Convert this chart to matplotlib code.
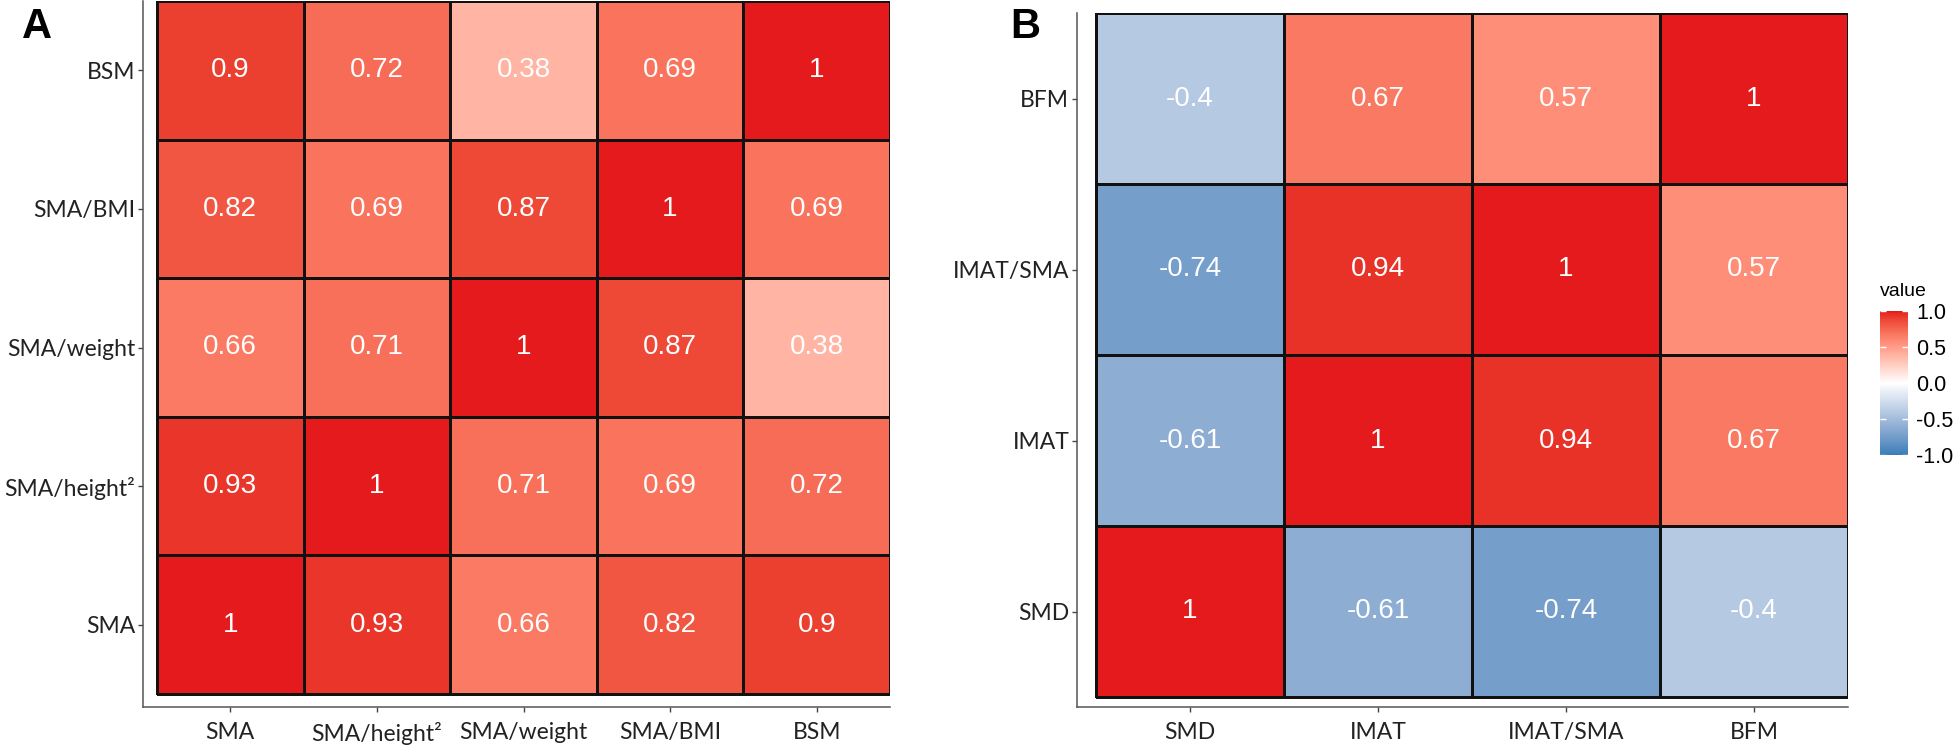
import numpy as np
import matplotlib
matplotlib.use("Agg")
import matplotlib.pyplot as plt
from matplotlib.colors import ListedColormap


# panel A data (rows bottom -> top, same order as columns)
labels_a = ["SMA", "SMA/height²", "SMA/weight", "SMA/BMI", "BSM"]
corr_a = [
    [1, 0.93, 0.66, 0.82, 0.9],
    [0.93, 1, 0.71, 0.69, 0.72],
    [0.66, 0.71, 1, 0.87, 0.38],
    [0.82, 0.69, 0.87, 1, 0.69],
    [0.9, 0.72, 0.38, 0.69, 1],
]

# panel B data
labels_b = ["SMD", "IMAT", "IMAT/SMA", "BFM"]
corr_b = [
    [1, -0.61, -0.74, -0.4],
    [-0.61, 1, 0.94, 0.67],
    [-0.74, 0.94, 1, 0.57],
    [-0.4, 0.67, 0.57, 1],
]

cbar_ticks = [-1.0, -0.5, 0.0, 0.5, 1.0]

LOW = "#377EB8"
HIGH = "#E41A1C"

W, H = 1960, 748
TICK_FONT = "Lato"
CELL_FONT = "Liberation Sans"


# ggplot-like gradient2: interpolate in Lab space
def srgb_to_lab(rgb):
    c = np.asarray(rgb, float)
    lin = np.where(c <= 0.04045, c / 12.92, ((c + 0.055) / 1.055) ** 2.4)
    m = np.array([[0.4124, 0.3576, 0.1805],
                  [0.2126, 0.7152, 0.0722],
                  [0.0193, 0.1192, 0.9505]])
    xyz = m @ lin / np.array([0.95047, 1.0, 1.08883])
    f = np.where(xyz > 0.008856, np.cbrt(xyz), 7.787 * xyz + 16 / 116)
    return np.array([116 * f[1] - 16, 500 * (f[0] - f[1]), 200 * (f[1] - f[2])])


def lab_to_srgb(lab):
    L, a, b = lab
    fy = (L + 16) / 116
    fx = fy + a / 500
    fz = fy - b / 200
    f = np.array([fx, fy, fz])
    xyz = np.where(f ** 3 > 0.008856, f ** 3, (f - 16 / 116) / 7.787)
    xyz = xyz * np.array([0.95047, 1.0, 1.08883])
    m = np.array([[3.2406, -1.5372, -0.4986],
                  [-0.9689, 1.8758, 0.0415],
                  [0.0557, -0.2040, 1.0570]])
    lin = m @ xyz
    lin = np.clip(lin, 0, 1)
    c = np.where(lin <= 0.0031308, 12.92 * lin, 1.055 * lin ** (1 / 2.4) - 0.055)
    return np.clip(c, 0, 1)


def hex_rgb(h):
    return np.array([int(h[i:i + 2], 16) / 255 for i in (1, 3, 5)])


lab_low = srgb_to_lab(hex_rgb(LOW))
lab_mid = srgb_to_lab(np.ones(3))
lab_high = srgb_to_lab(hex_rgb(HIGH))
cols = []
for t in np.linspace(-1, 1, 256):
    if t < 0:
        lab = lab_mid + (-t) * (lab_low - lab_mid)
    else:
        lab = lab_mid + t * (lab_high - lab_mid)
    cols.append(lab_to_srgb(lab))
cmap = ListedColormap(cols)


def px_axes(fig, x0, y0, x1, y1):
    # pixel box (top-left origin) -> figure fraction
    return fig.add_axes([x0 / W, 1 - y1 / H, (x1 - x0) / W, (y1 - y0) / H])


def draw_heatmap(ax, labels, corr, gap_x, gap_y):
    data = np.array(corr, float)
    n = len(labels)
    edges = np.arange(n + 1) - 0.5
    mesh = ax.pcolormesh(edges, edges, data, cmap=cmap, vmin=-1, vmax=1,
                         edgecolors="#111111", linewidth=0.8)
    for i in range(n):
        for j in range(n):
            v = data[i, j]
            txt = "1" if v == 1 else ("%g" % v)
            ax.text(j, i, txt, ha="center", va="center", color="white",
                    fontsize=20, family=CELL_FONT)
    ax.set_xlim(-0.5 - gap_x, n - 0.5)
    ax.set_ylim(-0.5 - gap_y, n - 0.5)
    ax.set_xticks(range(n))
    ax.set_yticks(range(n))
    ax.set_xticklabels(labels, family=TICK_FONT, fontsize=16.5, color="#222222")
    ax.set_yticklabels(labels, family=TICK_FONT, fontsize=16.5, color="#222222")
    for s in ["top", "right"]:
        ax.spines[s].set_visible(False)
    for s in ["left", "bottom"]:
        ax.spines[s].set_color("#555555")
        ax.spines[s].set_linewidth(1.1)
    ax.tick_params(length=3.5, width=1, color="#444444", pad=2)
    ax.tick_params(axis="x", pad=7)
    return mesh


fig = plt.figure(figsize=(W / 100, H / 100), dpi=100)

# panel A: axes box includes the small gap between tiles and axis lines
ax_a = px_axes(fig, 143, 1, 890, 707)
draw_heatmap(ax_a, labels_a, corr_a, 14 / 146.6, 13 / 138.6)

# panel B
ax_b = px_axes(fig, 1077, 13, 1848, 707)
mesh = draw_heatmap(ax_b, labels_b, corr_b, 19 / 188.0, 10 / 171.0)

# colour bar
cax = px_axes(fig, 1880, 311, 1908, 455)
cb = fig.colorbar(mesh, cax=cax, ticks=cbar_ticks)
cb.outline.set_visible(False)
cax.set_yticklabels(["%.1f" % t for t in cbar_ticks], family=CELL_FONT, fontsize=15.5)
cax.tick_params(axis="y", direction="in", length=4, width=1, color="white",
                left=True, right=True, labelleft=False, labelright=True, pad=6)
fig.text(1880 / W, 1 - 291 / H, "value", family=CELL_FONT, fontsize=14,
         ha="left", va="center")

# panel letters
fig.text(22 / W, 1 - 7 / H, "A", fontsize=30, fontweight="bold",
         family=CELL_FONT, ha="left", va="top")
fig.text(1010 / W, 1 - 7 / H, "B", fontsize=30, fontweight="bold",
         family=CELL_FONT, ha="left", va="top")

fig.savefig("out.png", dpi=100)
